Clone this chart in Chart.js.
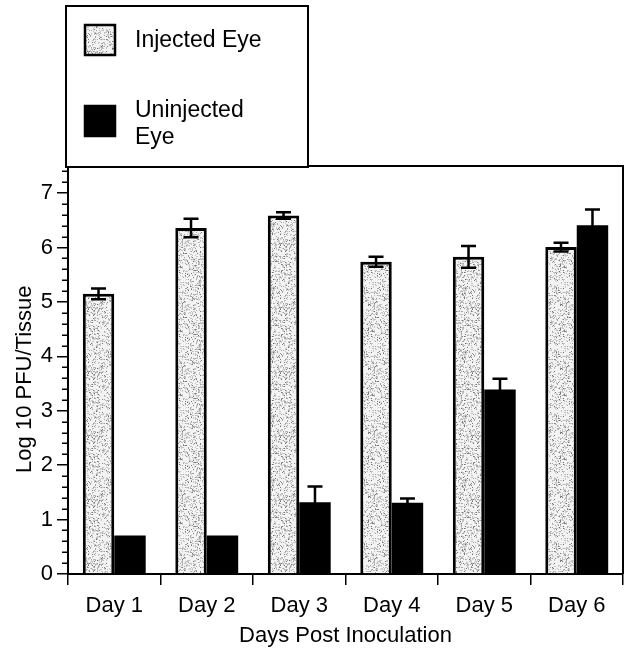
<!DOCTYPE html>
<html>
<head>
<meta charset="utf-8">
<script src="https://cdn.jsdelivr.net/npm/chart.js@4"></script>
<style>
  html, body { margin: 0; padding: 0; background: #fff; }
  #wrap { position: relative; width: 626px; height: 651px; }
</style>
</head>
<body>
<div id="wrap"><canvas id="chart"></canvas></div>
<script>
const days = ["Day 1", "Day 2", "Day 3", "Day 4", "Day 5", "Day 6"];
const seriesLabels = ["Injected Eye", "Uninjected Eye"];
const legendLines = [["Injected Eye"], ["Uninjected", "Eye"]];
const injected = [5.15, 6.36, 6.59, 5.74, 5.83, 6.01];
const injectedErr = [0.1, 0.17, 0.06, 0.09, 0.2, 0.08];
const uninjected = [0.71, 0.71, 1.32, 1.31, 3.39, 6.41];
const uninjectedErr = [0, 0, 0.29, 0.08, 0.2, 0.29];
const yTitle = "Log 10 PFU/Tissue";
const xTitle = "Days Post Inoculation";

const FONT = "'Liberation Sans', Arial, Helvetica, sans-serif";

// speckled grey fill like the printed stipple
function stipple() {
  const n = 64;
  const c = document.createElement("canvas");
  c.width = c.height = n;
  const g = c.getContext("2d");
  g.fillStyle = "#f3f3f3";
  g.fillRect(0, 0, n, n);
  let s = 987654;
  const next = () => (s = (Math.imul(s, 1664525) + 1013904223) >>> 0) >>> 12;
  for (let i = 0; i < 1100; i++) {
    const x = next() % n;
    const y = next() % n;
    const k = next() % 6;
    g.fillStyle = k < 3 ? "#c4c4c4" : k < 5 ? "#a2a2a2" : "#777";
    g.fillRect(x, y, k === 1 ? 2 : 1, k === 2 ? 2 : 1);
  }
  return g.createPattern(c, "repeat");
}
const speckle = stipple();

const isMajor = (v) => Math.abs(v - Math.round(v)) < 1e-6;
const isMinor = (v) => !isMajor(v) && Math.abs(v * 5 - Math.round(v * 5)) < 1e-6;

const framePlugin = {
  id: "frame",
  afterDraw(chart) {
    const { ctx, chartArea: a, scales } = chart;
    ctx.save();
    ctx.strokeStyle = "#000";
    ctx.lineWidth = 2;
    ctx.beginPath();
    ctx.moveTo(a.left, a.top);
    ctx.lineTo(a.right, a.top);
    ctx.lineTo(a.right, a.bottom);
    ctx.stroke();
    // minor ticks on the value axis
    const y = scales.y;
    ctx.lineWidth = 1.5;
    ctx.beginPath();
    y.ticks.forEach((t) => {
      if (!isMinor(t.value)) return;
      const py = Math.round(y.getPixelForValue(t.value)) + 0.25;
      ctx.moveTo(a.left - 6, py);
      ctx.lineTo(a.left, py);
    });
    ctx.stroke();
    ctx.restore();
  },
};

const errorBarPlugin = {
  id: "errorBars",
  afterDatasetsDraw(chart) {
    const { ctx } = chart;
    const y = chart.scales.y;
    ctx.save();
    ctx.strokeStyle = "#000";
    ctx.lineWidth = 2.5;
    chart.data.datasets.forEach((ds, i) => {
      const meta = chart.getDatasetMeta(i);
      meta.data.forEach((bar, j) => {
        const e = ds.errors[j];
        if (!e) return;
        const v = ds.data[j];
        const top = y.getPixelForValue(v + e);
        const bot = y.getPixelForValue(v - e);
        ctx.beginPath();
        ctx.moveTo(bar.x, bot);
        ctx.lineTo(bar.x, top);
        ctx.moveTo(bar.x - 7.5, top);
        ctx.lineTo(bar.x + 7.5, top);
        ctx.moveTo(bar.x - 7.5, bot);
        ctx.lineTo(bar.x + 7.5, bot);
        ctx.stroke();
      });
    });
    ctx.restore();
  },
};

const legendPlugin = {
  id: "boxLegend",
  afterDraw(chart) {
    const { ctx } = chart;
    const ds = chart.data.datasets;
    ctx.save();
    ctx.fillStyle = "#fff";
    ctx.fillRect(66, 6, 242, 161);
    ctx.strokeStyle = "#000";
    ctx.lineWidth = 2;
    ctx.strokeRect(66, 6, 242, 161);

    const swatchY = [25, 106];
    const textY = [[41], [111, 138]];
    ds.forEach((d, i) => {
      ctx.fillStyle = d.backgroundColor;
      ctx.fillRect(85, swatchY[i], 30, 30);
      ctx.lineWidth = 2.5;
      ctx.strokeStyle = "#000";
      ctx.strokeRect(85, swatchY[i], 30, 30);
      ctx.fillStyle = "#000";
      ctx.font = "23px " + FONT;
      ctx.textBaseline = "middle";
      ctx.textAlign = "left";
      legendLines[i].forEach((line, k) => ctx.fillText(line, 135, textY[i][k]));
    });
    ctx.restore();
  },
};

new Chart(document.getElementById("chart"), {
  type: "bar",
  data: {
    labels: days,
    datasets: [
      {
        label: seriesLabels[0],
        data: injected,
        errors: injectedErr,
        backgroundColor: speckle,
        borderColor: "#000",
        borderWidth: 3,
      },
      {
        label: seriesLabels[1],
        data: uninjected,
        errors: uninjectedErr,
        backgroundColor: "#000",
        borderColor: "#000",
        borderWidth: 0,
      },
    ],
  },
  options: {
    responsive: true,
    maintainAspectRatio: false,
    animation: false,
    categoryPercentage: 0.68,
    barPercentage: 1,
    layout: { padding: { top: 166, right: 3, left: 0, bottom: 0 } },
    plugins: { legend: { display: false }, tooltip: { enabled: false } },
    scales: {
      x: {
        grid: { offset: true, drawOnChartArea: false, tickLength: 11, color: "#000", lineWidth: 1.5 },
        border: { color: "#000", width: 2 },
        ticks: { color: "#000", font: { family: FONT, size: 22 }, padding: 8, maxRotation: 0 },
        title: {
          display: true,
          text: xTitle,
          color: "#000",
          font: { family: FONT, size: 22 },
          padding: { top: 0, bottom: 2 },
        },
        afterFit(s) { s.height = 77; },
      },
      y: {
        min: 0,
        max: 7.5,
        ticks: {
          stepSize: 0.2,
          includeBounds: false,
          autoSkip: false,
          color: "#000",
          font: { family: FONT, size: 22 },
          padding: 4,
          callback: (v) => (isMajor(v) ? String(Math.round(v)) : ""),
        },
        grid: {
          drawOnChartArea: false,
          tickLength: 11,
          lineWidth: 1.5,
          color: (c) => (c.tick && isMajor(c.tick.value) ? "#000" : "rgba(0,0,0,0)"),
        },
        border: { color: "#000", width: 2 },
        title: {
          display: true,
          text: yTitle + "   ",
          color: "#000",
          font: { family: FONT, size: 22 },
          padding: { top: 12, bottom: 0 },
        },
        afterFit(s) { s.width = 68; },
      },
    },
  },
  plugins: [framePlugin, errorBarPlugin, legendPlugin],
});
</script>
</body>
</html>
